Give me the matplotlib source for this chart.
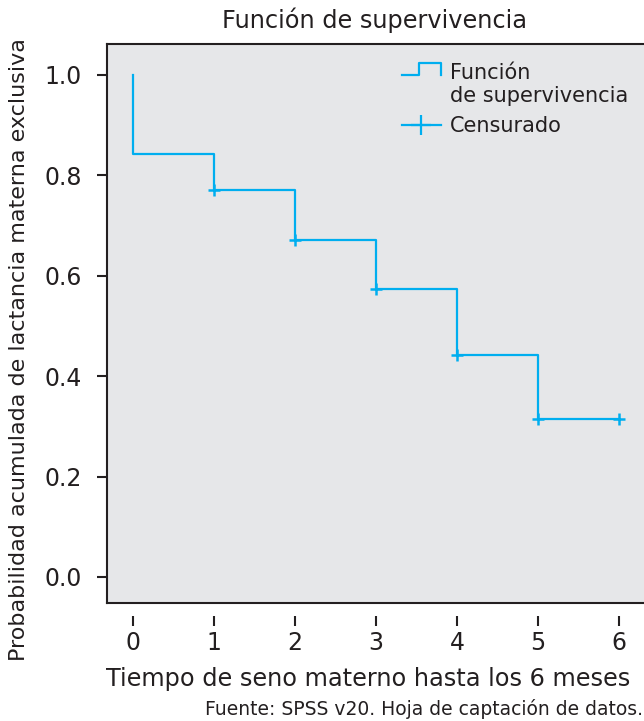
import numpy as np
import matplotlib.pyplot as plt
from matplotlib.lines import Line2D
from matplotlib.legend_handler import HandlerBase

# survival steps (time, probability)
TIME = [0, 1, 2, 3, 4, 5, 6]
SURV = [0.843, 0.771, 0.671, 0.574, 0.442, 0.315, 0.315]
CENS_T = [1, 2, 3, 4, 5, 6]
CENS_S = [0.771, 0.671, 0.574, 0.442, 0.315, 0.315]
XTICKS = [0, 1, 2, 3, 4, 5, 6]
YTICKS = [0.0, 0.2, 0.4, 0.6, 0.8, 1.0]

BLUE = '#00aeef'
INK = '#231f20'
BG = '#e6e7e9'

plt.rcParams['font.family'] = ['DejaVu Sans']


class StepHandler(HandlerBase):
    # step-shaped handle, raised to sit on the first text line
    def create_artists(self, legend, orig, xd, yd, w, h, fontsize, trans):
        up = 0.85 * fontsize
        x = [xd, xd + 0.45 * w, xd + 0.45 * w, xd + w, xd + w]
        y = [yd + 0.05 * h, yd + 0.05 * h, yd + 0.95 * h, yd + 0.95 * h, yd + 0.05 * h]
        y = [v + up for v in y]
        ln = Line2D(x, y, color=BLUE, lw=1.6, transform=trans)
        return [ln]


fig = plt.figure(figsize=(6.44, 7.21), dpi=100)
ax = fig.add_axes([107 / 644, 1 - 603 / 721, 1.01 - 107 / 644, (603 - 44) / 721])
ax.set_facecolor(BG)

# step curve: start at 1.0 at t=0
xs = [0]
ys = [1.0]
for i, t in enumerate(TIME):
    xs += [t, TIME[i + 1] if i + 1 < len(TIME) else t]
    ys += [SURV[i], SURV[i]]
ax.plot(xs, ys, color=BLUE, lw=1.6)
ax.plot(CENS_T, CENS_S, ls='none', marker='+', ms=9, mew=1.8, color=BLUE)

ax.set_xlim(-26 / 81, (650.4 - 133) / 81)
ax.set_ylim(-26 / 502, 1 + 31 / 502)

ax.set_xticks(XTICKS)
ax.set_yticks(YTICKS)
ax.set_yticklabels(['%.1f' % v for v in YTICKS])

for s in ['top', 'left', 'right']:
    ax.spines[s].set_color(INK)
    ax.spines[s].set_linewidth(1.5)
ax.spines['bottom'].set_position(('outward', 9))
ax.spines['bottom'].set_color('none')
ax.plot([0, 1], [0, 0], transform=ax.transAxes, color=INK, lw=1.5, clip_on=False)

ax.tick_params(axis='y', length=7, width=1.5, color=INK, labelsize=17, labelcolor=INK, pad=11)
ax.tick_params(axis='x', length=7, width=1.5, color=INK, labelsize=17, labelcolor=INK, pad=4)

ax.set_xlabel('Tiempo de seno materno hasta los 6 meses', fontsize=17.3, color=INK, labelpad=9)
ax.xaxis.label.set_x((368 - 107) / 543.4)
ax.set_ylabel('Probabilidad acumulada de lactancia materna exclusiva', fontsize=16, color=INK, labelpad=11)
ax.yaxis.label.set_y((603 - 350) / 559)
fig.text(375 / 644, 1 - 20 / 721, 'Función de supervivencia', ha='center', va='center',
         fontsize=17.3, color=INK)
fig.text(205 / 644, 1 - 709 / 721, 'Fuente: SPSS v20. Hoja de captación de datos.', ha='left', va='center',
         fontsize=13.5, color=INK)

h1 = Line2D([], [], color=BLUE)
h2 = Line2D([0, 1], [0, 0], color=BLUE, lw=1.6, marker='+', ms=14, mew=1.6)
fig.legend([h1, h2], ['Función\nde supervivencia', 'Censurado'],
           handler_map={h1: StepHandler()}, loc='upper left',
           bbox_to_anchor=(387 / 644, 1 - 48 / 721), frameon=False, fontsize=15,
           labelcolor=INK, handlelength=1.9, handleheight=0.6, handletextpad=0.4,
           labelspacing=0.5, borderpad=0.2)

fig.savefig('out.png', dpi=100)
